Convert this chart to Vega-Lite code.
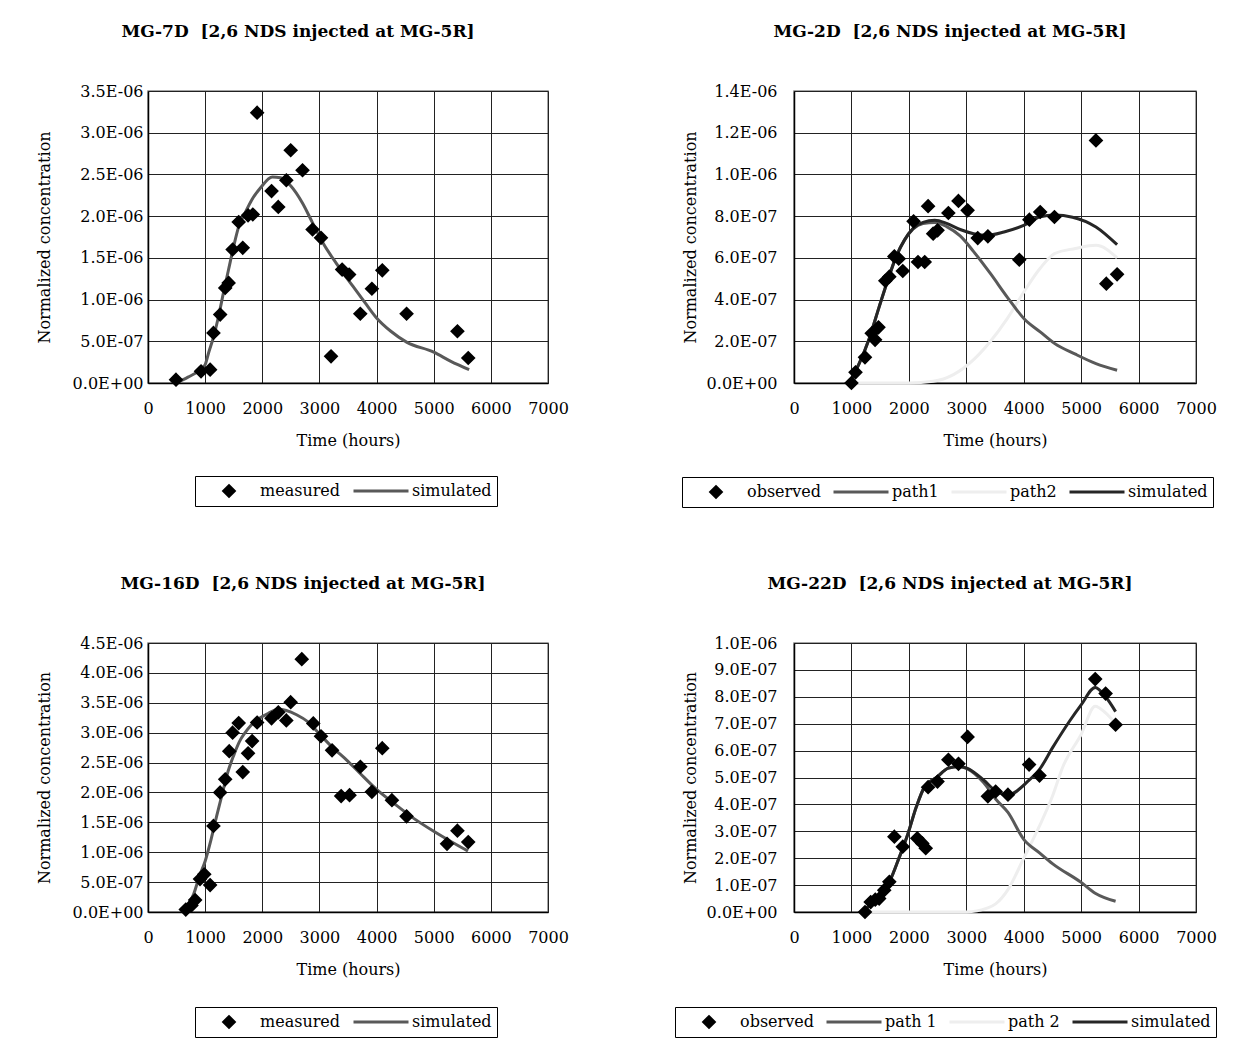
{
  "$schema": "https://vega.github.io/schema/vega-lite/v6.json",
  "background": "white",
  "padding": {"left": 35, "top": 22, "right": 5, "bottom": 5},
  "datasets": {
    "p1_obs": [
      {"series": "measured", "time": 490, "conc": 4.0e-8},
      {"series": "measured", "time": 928, "conc": 1.4e-7},
      {"series": "measured", "time": 1087, "conc": 1.6e-7},
      {"series": "measured", "time": 1146, "conc": 6.0e-7},
      {"series": "measured", "time": 1263, "conc": 8.2e-7},
      {"series": "measured", "time": 1351, "conc": 1.14e-6},
      {"series": "measured", "time": 1411, "conc": 1.20e-6},
      {"series": "measured", "time": 1481, "conc": 1.60e-6},
      {"series": "measured", "time": 1587, "conc": 1.93e-6},
      {"series": "measured", "time": 1658, "conc": 1.62e-6},
      {"series": "measured", "time": 1751, "conc": 2.01e-6},
      {"series": "measured", "time": 1834, "conc": 2.02e-6},
      {"series": "measured", "time": 1910, "conc": 3.24e-6},
      {"series": "measured", "time": 2162, "conc": 2.30e-6},
      {"series": "measured", "time": 2280, "conc": 2.11e-6},
      {"series": "measured", "time": 2421, "conc": 2.43e-6},
      {"series": "measured", "time": 2497, "conc": 2.79e-6},
      {"series": "measured", "time": 2704, "conc": 2.55e-6},
      {"series": "measured", "time": 2880, "conc": 1.84e-6},
      {"series": "measured", "time": 3027, "conc": 1.74e-6},
      {"series": "measured", "time": 3203, "conc": 3.2e-7},
      {"series": "measured", "time": 3397, "conc": 1.36e-6},
      {"series": "measured", "time": 3520, "conc": 1.30e-6},
      {"series": "measured", "time": 3715, "conc": 8.3e-7},
      {"series": "measured", "time": 3918, "conc": 1.13e-6},
      {"series": "measured", "time": 4100, "conc": 1.35e-6},
      {"series": "measured", "time": 4525, "conc": 8.3e-7},
      {"series": "measured", "time": 5415, "conc": 6.2e-7},
      {"series": "measured", "time": 5604, "conc": 3.0e-7}
    ],
    "p1_sim": [
      {"series": "simulated", "time": 500, "conc": 0},
      {"series": "simulated", "time": 700, "conc": 7e-8},
      {"series": "simulated", "time": 900, "conc": 1.5e-7},
      {"series": "simulated", "time": 1000, "conc": 2.2e-7},
      {"series": "simulated", "time": 1060, "conc": 3.6e-7},
      {"series": "simulated", "time": 1150, "conc": 5.6e-7},
      {"series": "simulated", "time": 1235, "conc": 8.0e-7},
      {"series": "simulated", "time": 1320, "conc": 1.08e-6},
      {"series": "simulated", "time": 1410, "conc": 1.36e-6},
      {"series": "simulated", "time": 1500, "conc": 1.64e-6},
      {"series": "simulated", "time": 1590, "conc": 1.88e-6},
      {"series": "simulated", "time": 1700, "conc": 2.04e-6},
      {"series": "simulated", "time": 1820, "conc": 2.20e-6},
      {"series": "simulated", "time": 1970, "conc": 2.34e-6},
      {"series": "simulated", "time": 2175, "conc": 2.47e-6},
      {"series": "simulated", "time": 2320, "conc": 2.46e-6},
      {"series": "simulated", "time": 2500, "conc": 2.36e-6},
      {"series": "simulated", "time": 2700, "conc": 2.16e-6},
      {"series": "simulated", "time": 2880, "conc": 1.92e-6},
      {"series": "simulated", "time": 3060, "conc": 1.68e-6},
      {"series": "simulated", "time": 3290, "conc": 1.44e-6},
      {"series": "simulated", "time": 3585, "conc": 1.16e-6},
      {"series": "simulated", "time": 3800, "conc": 9.6e-7},
      {"series": "simulated", "time": 4000, "conc": 7.8e-7},
      {"series": "simulated", "time": 4250, "conc": 6.2e-7},
      {"series": "simulated", "time": 4525, "conc": 4.9e-7},
      {"series": "simulated", "time": 5000, "conc": 3.7e-7},
      {"series": "simulated", "time": 5300, "conc": 2.6e-7},
      {"series": "simulated", "time": 5620, "conc": 1.6e-7}
    ],
    "p2_obs": [
      {"series": "observed", "time": 1000, "conc": 0},
      {"series": "observed", "time": 1071, "conc": 5.1e-8},
      {"series": "observed", "time": 1236, "conc": 1.23e-7},
      {"series": "observed", "time": 1353, "conc": 2.38e-7},
      {"series": "observed", "time": 1412, "conc": 2.07e-7},
      {"series": "observed", "time": 1471, "conc": 2.67e-7},
      {"series": "observed", "time": 1590, "conc": 4.9e-7},
      {"series": "observed", "time": 1660, "conc": 5.1e-7},
      {"series": "observed", "time": 1747, "conc": 6.07e-7},
      {"series": "observed", "time": 1823, "conc": 5.96e-7},
      {"series": "observed", "time": 1894, "conc": 5.37e-7},
      {"series": "observed", "time": 2082, "conc": 7.75e-7},
      {"series": "observed", "time": 2159, "conc": 5.8e-7},
      {"series": "observed", "time": 2276, "conc": 5.8e-7},
      {"series": "observed", "time": 2335, "conc": 8.48e-7},
      {"series": "observed", "time": 2423, "conc": 7.16e-7},
      {"series": "observed", "time": 2500, "conc": 7.32e-7},
      {"series": "observed", "time": 2688, "conc": 8.15e-7},
      {"series": "observed", "time": 2864, "conc": 8.73e-7},
      {"series": "observed", "time": 3023, "conc": 8.28e-7},
      {"series": "observed", "time": 3199, "conc": 6.95e-7},
      {"series": "observed", "time": 3376, "conc": 7.03e-7},
      {"series": "observed", "time": 3923, "conc": 5.91e-7},
      {"series": "observed", "time": 4099, "conc": 7.83e-7},
      {"series": "observed", "time": 4287, "conc": 8.2e-7},
      {"series": "observed", "time": 4535, "conc": 7.96e-7},
      {"series": "observed", "time": 5258, "conc": 1.163e-6},
      {"series": "observed", "time": 5439, "conc": 4.76e-7},
      {"series": "observed", "time": 5626, "conc": 5.21e-7}
    ],
    "p2_sim": [
      {"series": "path2", "time": 1000, "conc": 0},
      {"series": "path2", "time": 2000, "conc": 0},
      {"series": "path2", "time": 2423, "conc": 8e-9},
      {"series": "path2", "time": 2776, "conc": 4e-8},
      {"series": "path2", "time": 3128, "conc": 1.12e-7},
      {"series": "path2", "time": 3422, "conc": 2.0e-7},
      {"series": "path2", "time": 3716, "conc": 3.1e-7},
      {"series": "path2", "time": 4010, "conc": 4.4e-7},
      {"series": "path2", "time": 4287, "conc": 5.5e-7},
      {"series": "path2", "time": 4535, "conc": 6.2e-7},
      {"series": "path2", "time": 4900, "conc": 6.45e-7},
      {"series": "path2", "time": 5258, "conc": 6.6e-7},
      {"series": "path2", "time": 5626, "conc": 6.0e-7},
      {"series": "path1", "time": 960, "conc": 0},
      {"series": "path1", "time": 1130, "conc": 9e-8},
      {"series": "path1", "time": 1306, "conc": 2.1e-7},
      {"series": "path1", "time": 1483, "conc": 3.65e-7},
      {"series": "path1", "time": 1630, "conc": 4.9e-7},
      {"series": "path1", "time": 1777, "conc": 6.05e-7},
      {"series": "path1", "time": 1923, "conc": 6.85e-7},
      {"series": "path1", "time": 2070, "conc": 7.38e-7},
      {"series": "path1", "time": 2247, "conc": 7.65e-7},
      {"series": "path1", "time": 2452, "conc": 7.7e-7},
      {"series": "path1", "time": 2658, "conc": 7.5e-7},
      {"series": "path1", "time": 2893, "conc": 7.05e-7},
      {"series": "path1", "time": 3128, "conc": 6.3e-7},
      {"series": "path1", "time": 3422, "conc": 5.24e-7},
      {"series": "path1", "time": 3716, "conc": 4.11e-7},
      {"series": "path1", "time": 4010, "conc": 3.07e-7},
      {"series": "path1", "time": 4287, "conc": 2.45e-7},
      {"series": "path1", "time": 4535, "conc": 1.9e-7},
      {"series": "path1", "time": 4900, "conc": 1.38e-7},
      {"series": "path1", "time": 5258, "conc": 9.3e-8},
      {"series": "path1", "time": 5626, "conc": 6.1e-8},
      {"series": "simulated", "time": 960, "conc": 0},
      {"series": "simulated", "time": 1130, "conc": 9e-8},
      {"series": "simulated", "time": 1306, "conc": 2.1e-7},
      {"series": "simulated", "time": 1483, "conc": 3.65e-7},
      {"series": "simulated", "time": 1630, "conc": 4.9e-7},
      {"series": "simulated", "time": 1777, "conc": 6.05e-7},
      {"series": "simulated", "time": 1923, "conc": 6.85e-7},
      {"series": "simulated", "time": 2070, "conc": 7.4e-7},
      {"series": "simulated", "time": 2247, "conc": 7.7e-7},
      {"series": "simulated", "time": 2452, "conc": 7.8e-7},
      {"series": "simulated", "time": 2658, "conc": 7.65e-7},
      {"series": "simulated", "time": 2893, "conc": 7.36e-7},
      {"series": "simulated", "time": 3128, "conc": 7.16e-7},
      {"series": "simulated", "time": 3364, "conc": 7.08e-7},
      {"series": "simulated", "time": 3657, "conc": 7.24e-7},
      {"series": "simulated", "time": 4010, "conc": 7.57e-7},
      {"series": "simulated", "time": 4287, "conc": 7.97e-7},
      {"series": "simulated", "time": 4535, "conc": 8.05e-7},
      {"series": "simulated", "time": 4850, "conc": 7.95e-7},
      {"series": "simulated", "time": 5258, "conc": 7.48e-7},
      {"series": "simulated", "time": 5626, "conc": 6.63e-7}
    ],
    "p3_obs": [
      {"series": "measured", "time": 661, "conc": 4e-8},
      {"series": "measured", "time": 760, "conc": 1.1e-7},
      {"series": "measured", "time": 825, "conc": 2.0e-7},
      {"series": "measured", "time": 910, "conc": 5.5e-7},
      {"series": "measured", "time": 985, "conc": 6.3e-7},
      {"series": "measured", "time": 1087, "conc": 4.5e-7},
      {"series": "measured", "time": 1146, "conc": 1.44e-6},
      {"series": "measured", "time": 1263, "conc": 2.0e-6},
      {"series": "measured", "time": 1351, "conc": 2.22e-6},
      {"series": "measured", "time": 1422, "conc": 2.69e-6},
      {"series": "measured", "time": 1481, "conc": 3.0e-6},
      {"series": "measured", "time": 1587, "conc": 3.16e-6},
      {"series": "measured", "time": 1658, "conc": 2.34e-6},
      {"series": "measured", "time": 1751, "conc": 2.655e-6},
      {"series": "measured", "time": 1822, "conc": 2.86e-6},
      {"series": "measured", "time": 1910, "conc": 3.17e-6},
      {"series": "measured", "time": 2162, "conc": 3.24e-6},
      {"series": "measured", "time": 2280, "conc": 3.34e-6},
      {"series": "measured", "time": 2421, "conc": 3.205e-6},
      {"series": "measured", "time": 2497, "conc": 3.51e-6},
      {"series": "measured", "time": 2691, "conc": 4.23e-6},
      {"series": "measured", "time": 2892, "conc": 3.155e-6},
      {"series": "measured", "time": 3027, "conc": 2.94e-6},
      {"series": "measured", "time": 3221, "conc": 2.705e-6},
      {"series": "measured", "time": 3380, "conc": 1.94e-6},
      {"series": "measured", "time": 3527, "conc": 1.955e-6},
      {"series": "measured", "time": 3716, "conc": 2.43e-6},
      {"series": "measured", "time": 3918, "conc": 2.01e-6},
      {"series": "measured", "time": 4100, "conc": 2.74e-6},
      {"series": "measured", "time": 4269, "conc": 1.87e-6},
      {"series": "measured", "time": 4525, "conc": 1.60e-6},
      {"series": "measured", "time": 5233, "conc": 1.14e-6},
      {"series": "measured", "time": 5415, "conc": 1.36e-6},
      {"series": "measured", "time": 5604, "conc": 1.17e-6}
    ],
    "p3_sim": [
      {"series": "simulated", "time": 620, "conc": 0},
      {"series": "simulated", "time": 800, "conc": 3.0e-7},
      {"series": "simulated", "time": 900, "conc": 6.0e-7},
      {"series": "simulated", "time": 1000, "conc": 8.5e-7},
      {"series": "simulated", "time": 1100, "conc": 1.2e-6},
      {"series": "simulated", "time": 1200, "conc": 1.6e-6},
      {"series": "simulated", "time": 1300, "conc": 1.98e-6},
      {"series": "simulated", "time": 1400, "conc": 2.35e-6},
      {"series": "simulated", "time": 1500, "conc": 2.62e-6},
      {"series": "simulated", "time": 1600, "conc": 2.85e-6},
      {"series": "simulated", "time": 1700, "conc": 3.0e-6},
      {"series": "simulated", "time": 1800, "conc": 3.12e-6},
      {"series": "simulated", "time": 1950, "conc": 3.24e-6},
      {"series": "simulated", "time": 2100, "conc": 3.32e-6},
      {"series": "simulated", "time": 2280, "conc": 3.39e-6},
      {"series": "simulated", "time": 2420, "conc": 3.37e-6},
      {"series": "simulated", "time": 2600, "conc": 3.3e-6},
      {"series": "simulated", "time": 2800, "conc": 3.18e-6},
      {"series": "simulated", "time": 3000, "conc": 2.98e-6},
      {"series": "simulated", "time": 3200, "conc": 2.78e-6},
      {"series": "simulated", "time": 3500, "conc": 2.52e-6},
      {"series": "simulated", "time": 3700, "conc": 2.33e-6},
      {"series": "simulated", "time": 4000, "conc": 2.05e-6},
      {"series": "simulated", "time": 4300, "conc": 1.82e-6},
      {"series": "simulated", "time": 4600, "conc": 1.6e-6},
      {"series": "simulated", "time": 5000, "conc": 1.35e-6},
      {"series": "simulated", "time": 5300, "conc": 1.18e-6},
      {"series": "simulated", "time": 5600, "conc": 1.02e-6}
    ],
    "p4_obs": [
      {"series": "observed", "time": 1236, "conc": 0},
      {"series": "observed", "time": 1335, "conc": 3.7e-8},
      {"series": "observed", "time": 1415, "conc": 4.6e-8},
      {"series": "observed", "time": 1483, "conc": 5.0e-8},
      {"series": "observed", "time": 1571, "conc": 8.1e-8},
      {"series": "observed", "time": 1660, "conc": 1.12e-7},
      {"series": "observed", "time": 1748, "conc": 2.8e-7},
      {"series": "observed", "time": 1894, "conc": 2.43e-7},
      {"series": "observed", "time": 2146, "conc": 2.74e-7},
      {"series": "observed", "time": 2235, "conc": 2.55e-7},
      {"series": "observed", "time": 2294, "conc": 2.37e-7},
      {"series": "observed", "time": 2335, "conc": 4.64e-7},
      {"series": "observed", "time": 2499, "conc": 4.85e-7},
      {"series": "observed", "time": 2688, "conc": 5.66e-7},
      {"series": "observed", "time": 2864, "conc": 5.51e-7},
      {"series": "observed", "time": 3023, "conc": 6.51e-7},
      {"series": "observed", "time": 3376, "conc": 4.3e-7},
      {"series": "observed", "time": 3511, "conc": 4.48e-7},
      {"series": "observed", "time": 3726, "conc": 4.36e-7},
      {"series": "observed", "time": 4094, "conc": 5.48e-7},
      {"series": "observed", "time": 4275, "conc": 5.07e-7},
      {"series": "observed", "time": 5245, "conc": 8.66e-7},
      {"series": "observed", "time": 5426, "conc": 8.12e-7},
      {"series": "observed", "time": 5600, "conc": 6.96e-7}
    ],
    "p4_sim": [
      {"series": "path 2", "time": 1190, "conc": 0},
      {"series": "path 2", "time": 3000, "conc": 0},
      {"series": "path 2", "time": 3376, "conc": 1.5e-8},
      {"series": "path 2", "time": 3511, "conc": 3e-8},
      {"series": "path 2", "time": 3726, "conc": 8.3e-8},
      {"series": "path 2", "time": 4000, "conc": 2.0e-7},
      {"series": "path 2", "time": 4275, "conc": 3.2e-7},
      {"series": "path 2", "time": 4500, "conc": 4.3e-7},
      {"series": "path 2", "time": 4682, "conc": 5.4e-7},
      {"series": "path 2", "time": 5000, "conc": 6.6e-7},
      {"series": "path 2", "time": 5245, "conc": 7.65e-7},
      {"series": "path 2", "time": 5426, "conc": 7.4e-7},
      {"series": "path 2", "time": 5600, "conc": 7.0e-7},
      {"series": "path 1", "time": 1190, "conc": 0},
      {"series": "path 1", "time": 1343, "conc": 3e-8},
      {"series": "path 1", "time": 1519, "conc": 7e-8},
      {"series": "path 1", "time": 1667, "conc": 1.15e-7},
      {"series": "path 1", "time": 1836, "conc": 2.05e-7},
      {"series": "path 1", "time": 1983, "conc": 2.9e-7},
      {"series": "path 1", "time": 2129, "conc": 3.9e-7},
      {"series": "path 1", "time": 2276, "conc": 4.66e-7},
      {"series": "path 1", "time": 2482, "conc": 5.0e-7},
      {"series": "path 1", "time": 2688, "conc": 5.35e-7},
      {"series": "path 1", "time": 2864, "conc": 5.41e-7},
      {"series": "path 1", "time": 3011, "conc": 5.33e-7},
      {"series": "path 1", "time": 3305, "conc": 4.8e-7},
      {"series": "path 1", "time": 3511, "conc": 4.2e-7},
      {"series": "path 1", "time": 3726, "conc": 3.7e-7},
      {"series": "path 1", "time": 4000, "conc": 2.7e-7},
      {"series": "path 1", "time": 4275, "conc": 2.2e-7},
      {"series": "path 1", "time": 4500, "conc": 1.8e-7},
      {"series": "path 1", "time": 5000, "conc": 1.1e-7},
      {"series": "path 1", "time": 5245, "conc": 7e-8},
      {"series": "path 1", "time": 5600, "conc": 4e-8},
      {"series": "simulated", "time": 1190, "conc": 0},
      {"series": "simulated", "time": 1343, "conc": 3e-8},
      {"series": "simulated", "time": 1519, "conc": 7e-8},
      {"series": "simulated", "time": 1667, "conc": 1.15e-7},
      {"series": "simulated", "time": 1836, "conc": 2.05e-7},
      {"series": "simulated", "time": 1983, "conc": 2.9e-7},
      {"series": "simulated", "time": 2129, "conc": 3.9e-7},
      {"series": "simulated", "time": 2276, "conc": 4.66e-7},
      {"series": "simulated", "time": 2482, "conc": 5.0e-7},
      {"series": "simulated", "time": 2688, "conc": 5.35e-7},
      {"series": "simulated", "time": 2864, "conc": 5.41e-7},
      {"series": "simulated", "time": 3011, "conc": 5.35e-7},
      {"series": "simulated", "time": 3305, "conc": 4.9e-7},
      {"series": "simulated", "time": 3511, "conc": 4.5e-7},
      {"series": "simulated", "time": 3726, "conc": 4.36e-7},
      {"series": "simulated", "time": 4094, "conc": 4.9e-7},
      {"series": "simulated", "time": 4275, "conc": 5.3e-7},
      {"series": "simulated", "time": 4500, "conc": 6.1e-7},
      {"series": "simulated", "time": 4800, "conc": 7.1e-7},
      {"series": "simulated", "time": 5000, "conc": 7.7e-7},
      {"series": "simulated", "time": 5245, "conc": 8.35e-7},
      {"series": "simulated", "time": 5426, "conc": 8.0e-7},
      {"series": "simulated", "time": 5600, "conc": 7.45e-7}
    ]
  },
  "resolve": {
    "scale": {"fill": "independent", "stroke": "independent", "shape": "independent"},
    "legend": {"fill": "independent", "stroke": "independent", "shape": "independent"}
  },
  "spacing": 65,
  "vconcat": [
    {
      "spacing": 110,
      "resolve": {
        "scale": {"fill": "independent", "stroke": "independent", "shape": "independent"},
        "legend": {"fill": "independent", "stroke": "independent", "shape": "independent"}
      },
      "hconcat": [
        {
          "width": 400, "height": 292,
          "title": {"text": "MG-7D\u00a0\u00a0[2,6 NDS injected at MG-5R]", "dx": -50, "offset": 42},
          "encoding": {
            "x": {"field": "time", "type": "quantitative", "scale": {"domain": [0, 7000]},
                  "axis": {"title": "Time (hours)", "values": [0, 1000, 2000, 3000, 4000, 5000, 6000, 7000], "format": "d", "labelPadding": 17, "titlePadding": 16}},
            "y": {"field": "conc", "type": "quantitative", "scale": {"domain": [0, 3.5e-6]},
                  "axis": {"title": "Normalized concentration", "values": [0, 5e-7, 1e-6, 1.5e-6, 2e-6, 2.5e-6, 3e-6, 3.5e-6], "labelPadding": 5, "titlePadding": 20,
                           "labelExpr": "replace(replace(format(datum.value, '.1e'), 'e-', 'E-0'), 'e+', 'E+0')"}}
          },
          "layer": [
            {
              "data": {"name": "p1_sim"},
              "mark": {"type": "line", "interpolate": "monotone", "strokeWidth": 3},
              "encoding": {
                "stroke": {"field": "series", "type": "nominal", "scale": {"domain": ["measured", "simulated"], "range": ["#000000", "#595959"]},
                           "legend": {"title": null, "orient": "none", "legendX": 47, "legendY": 385, "direction": "horizontal"}}
              }
            },
            {
              "data": {"name": "p1_obs"},
              "mark": {"type": "point", "filled": true, "opacity": 1, "strokeWidth": 3, "size": 3025},
              "encoding": {
                "fill": {"field": "series", "type": "nominal", "scale": {"domain": ["measured", "simulated"], "range": ["#000000", "#595959"]},
                         "legend": {"title": null, "orient": "none", "legendX": 47, "legendY": 385, "direction": "horizontal"}},
                "stroke": {"field": "series", "type": "nominal", "scale": {"domain": ["measured", "simulated"], "range": ["#000000", "#595959"]},
                           "legend": {"title": null, "orient": "none", "legendX": 47, "legendY": 385, "direction": "horizontal"}},
                "shape": {"field": "series", "type": "nominal", "scale": {"domain": ["measured", "simulated"], "range": ["M0,-0.19L0.19,0L0,0.19L-0.19,0Z", "stroke"]},
                          "legend": {"title": null, "orient": "none", "legendX": 47, "legendY": 385, "direction": "horizontal"}}
              }
            }
          ]
        },
        {
          "width": 402, "height": 292,
          "title": {"text": "MG-2D\u00a0\u00a0[2,6 NDS injected at MG-5R]", "dx": -45, "offset": 42},
          "encoding": {
            "x": {"field": "time", "type": "quantitative", "scale": {"domain": [0, 7000]},
                  "axis": {"title": "Time (hours)", "values": [0, 1000, 2000, 3000, 4000, 5000, 6000, 7000], "format": "d", "labelPadding": 17, "titlePadding": 16}},
            "y": {"field": "conc", "type": "quantitative", "scale": {"domain": [0, 1.4e-6]},
                  "axis": {"title": "Normalized concentration", "values": [0, 2e-7, 4e-7, 6e-7, 8e-7, 1e-6, 1.2e-6, 1.4e-6], "labelPadding": 17, "titlePadding": 8,
                           "labelExpr": "replace(replace(format(datum.value, '.1e'), 'e-', 'E-0'), 'e+', 'E+0')"}}
          },
          "layer": [
            {
              "data": {"name": "p2_sim"},
              "mark": {"type": "line", "interpolate": "monotone", "strokeWidth": 3},
              "encoding": {
                "stroke": {"field": "series", "type": "nominal", "scale": {"domain": ["observed", "path1", "path2", "simulated"], "range": ["#000000", "#595959", "#eeeeee", "#262626"]},
                           "legend": {"title": null, "orient": "none", "legendX": -112, "legendY": 386, "direction": "horizontal"}}
              }
            },
            {
              "data": {"name": "p2_obs"},
              "mark": {"type": "point", "filled": true, "opacity": 1, "strokeWidth": 3, "size": 3025},
              "encoding": {
                "fill": {"field": "series", "type": "nominal", "scale": {"domain": ["observed", "path1", "path2", "simulated"], "range": ["#000000", "#595959", "#eeeeee", "#262626"]},
                         "legend": {"title": null, "orient": "none", "legendX": -112, "legendY": 386, "direction": "horizontal"}},
                "stroke": {"field": "series", "type": "nominal", "scale": {"domain": ["observed", "path1", "path2", "simulated"], "range": ["#000000", "#595959", "#eeeeee", "#262626"]},
                           "legend": {"title": null, "orient": "none", "legendX": -112, "legendY": 386, "direction": "horizontal"}},
                "shape": {"field": "series", "type": "nominal", "scale": {"domain": ["observed", "path1", "path2", "simulated"], "range": ["M0,-0.19L0.19,0L0,0.19L-0.19,0Z", "stroke", "stroke", "stroke"]},
                          "legend": {"title": null, "orient": "none", "legendX": -112, "legendY": 386, "direction": "horizontal"}}
              }
            }
          ]
        }
      ]
    },
    {
      "spacing": 103,
      "resolve": {
        "scale": {"fill": "independent", "stroke": "independent", "shape": "independent"},
        "legend": {"fill": "independent", "stroke": "independent", "shape": "independent"}
      },
      "hconcat": [
        {
          "width": 400, "height": 269,
          "title": {"text": "MG-16D\u00a0\u00a0[2,6 NDS injected at MG-5R]", "dx": -45, "offset": 42},
          "encoding": {
            "x": {"field": "time", "type": "quantitative", "scale": {"domain": [0, 7000]},
                  "axis": {"title": "Time (hours)", "values": [0, 1000, 2000, 3000, 4000, 5000, 6000, 7000], "format": "d", "labelPadding": 17, "titlePadding": 16}},
            "y": {"field": "conc", "type": "quantitative", "scale": {"domain": [0, 4.5e-6]},
                  "axis": {"title": "Normalized concentration", "values": [0, 5e-7, 1e-6, 1.5e-6, 2e-6, 2.5e-6, 3e-6, 3.5e-6, 4e-6, 4.5e-6], "labelPadding": 5, "titlePadding": 20,
                           "labelExpr": "replace(replace(format(datum.value, '.1e'), 'e-', 'E-0'), 'e+', 'E+0')"}}
          },
          "layer": [
            {
              "data": {"name": "p3_sim"},
              "mark": {"type": "line", "interpolate": "monotone", "strokeWidth": 3},
              "encoding": {
                "stroke": {"field": "series", "type": "nominal", "scale": {"domain": ["measured", "simulated"], "range": ["#000000", "#595959"]},
                           "legend": {"title": null, "orient": "none", "legendX": 47, "legendY": 364, "direction": "horizontal"}}
              }
            },
            {
              "data": {"name": "p3_obs"},
              "mark": {"type": "point", "filled": true, "opacity": 1, "strokeWidth": 3, "size": 3025},
              "encoding": {
                "fill": {"field": "series", "type": "nominal", "scale": {"domain": ["measured", "simulated"], "range": ["#000000", "#595959"]},
                         "legend": {"title": null, "orient": "none", "legendX": 47, "legendY": 364, "direction": "horizontal"}},
                "stroke": {"field": "series", "type": "nominal", "scale": {"domain": ["measured", "simulated"], "range": ["#000000", "#595959"]},
                           "legend": {"title": null, "orient": "none", "legendX": 47, "legendY": 364, "direction": "horizontal"}},
                "shape": {"field": "series", "type": "nominal", "scale": {"domain": ["measured", "simulated"], "range": ["M0,-0.19L0.19,0L0,0.19L-0.19,0Z", "stroke"]},
                          "legend": {"title": null, "orient": "none", "legendX": 47, "legendY": 364, "direction": "horizontal"}}
              }
            }
          ]
        },
        {
          "width": 402, "height": 269,
          "title": {"text": "MG-22D\u00a0\u00a0[2,6 NDS injected at MG-5R]", "dx": -45, "offset": 42},
          "encoding": {
            "x": {"field": "time", "type": "quantitative", "scale": {"domain": [0, 7000]},
                  "axis": {"title": "Time (hours)", "values": [0, 1000, 2000, 3000, 4000, 5000, 6000, 7000], "format": "d", "labelPadding": 17, "titlePadding": 16}},
            "y": {"field": "conc", "type": "quantitative", "scale": {"domain": [0, 1e-6]},
                  "axis": {"title": "Normalized concentration", "values": [0, 1e-7, 2e-7, 3e-7, 4e-7, 5e-7, 6e-7, 7e-7, 8e-7, 9e-7, 1e-6], "labelPadding": 17, "titlePadding": 8,
                           "labelExpr": "replace(replace(format(datum.value, '.1e'), 'e-', 'E-0'), 'e+', 'E+0')"}}
          },
          "layer": [
            {
              "data": {"name": "p4_sim"},
              "mark": {"type": "line", "interpolate": "monotone", "strokeWidth": 3},
              "encoding": {
                "stroke": {"field": "series", "type": "nominal", "scale": {"domain": ["observed", "path 1", "path 2", "simulated"], "range": ["#000000", "#595959", "#eeeeee", "#262626"]},
                           "legend": {"title": null, "orient": "none", "legendX": -119, "legendY": 364, "direction": "horizontal"}}
              }
            },
            {
              "data": {"name": "p4_obs"},
              "mark": {"type": "point", "filled": true, "opacity": 1, "strokeWidth": 3, "size": 3025},
              "encoding": {
                "fill": {"field": "series", "type": "nominal", "scale": {"domain": ["observed", "path 1", "path 2", "simulated"], "range": ["#000000", "#595959", "#eeeeee", "#262626"]},
                         "legend": {"title": null, "orient": "none", "legendX": -119, "legendY": 364, "direction": "horizontal"}},
                "stroke": {"field": "series", "type": "nominal", "scale": {"domain": ["observed", "path 1", "path 2", "simulated"], "range": ["#000000", "#595959", "#eeeeee", "#262626"]},
                           "legend": {"title": null, "orient": "none", "legendX": -119, "legendY": 364, "direction": "horizontal"}},
                "shape": {"field": "series", "type": "nominal", "scale": {"domain": ["observed", "path 1", "path 2", "simulated"], "range": ["M0,-0.19L0.19,0L0,0.19L-0.19,0Z", "stroke", "stroke", "stroke"]},
                          "legend": {"title": null, "orient": "none", "legendX": -119, "legendY": 364, "direction": "horizontal"}}
              }
            }
          ]
        }
      ]
    }
  ],
  "config": {
    "view": {"stroke": "#888888", "strokeWidth": 1.5},
    "axis": {
      "labelFont": "DejaVu Serif", "labelFontSize": 16, "labelColor": "#000000",
      "titleFont": "DejaVu Serif", "titleFontSize": 16, "titleFontWeight": "normal", "titleColor": "#000000",
      "grid": true, "gridColor": "#222222", "gridWidth": 1, "gridOpacity": 1,
      "ticks": false, "domainColor": "#000000", "domainWidth": 1.5, "labelFlush": false, "labelOverlap": false
    },
    "title": {"font": "DejaVu Serif", "fontSize": 17, "fontWeight": "bold", "color": "#000000", "anchor": "middle"},
    "legend": {
      "labelFont": "DejaVu Serif", "labelFontSize": 16, "labelColor": "#000000",
      "strokeColor": "#000000", "padding": 5, "symbolStrokeWidth": 3, "symbolSize": 3025, "clipHeight": 20,
      "columnPadding": 11, "labelOffset": 2, "labelLimit": 0, "symbolOpacity": 1
    }
  }
}
